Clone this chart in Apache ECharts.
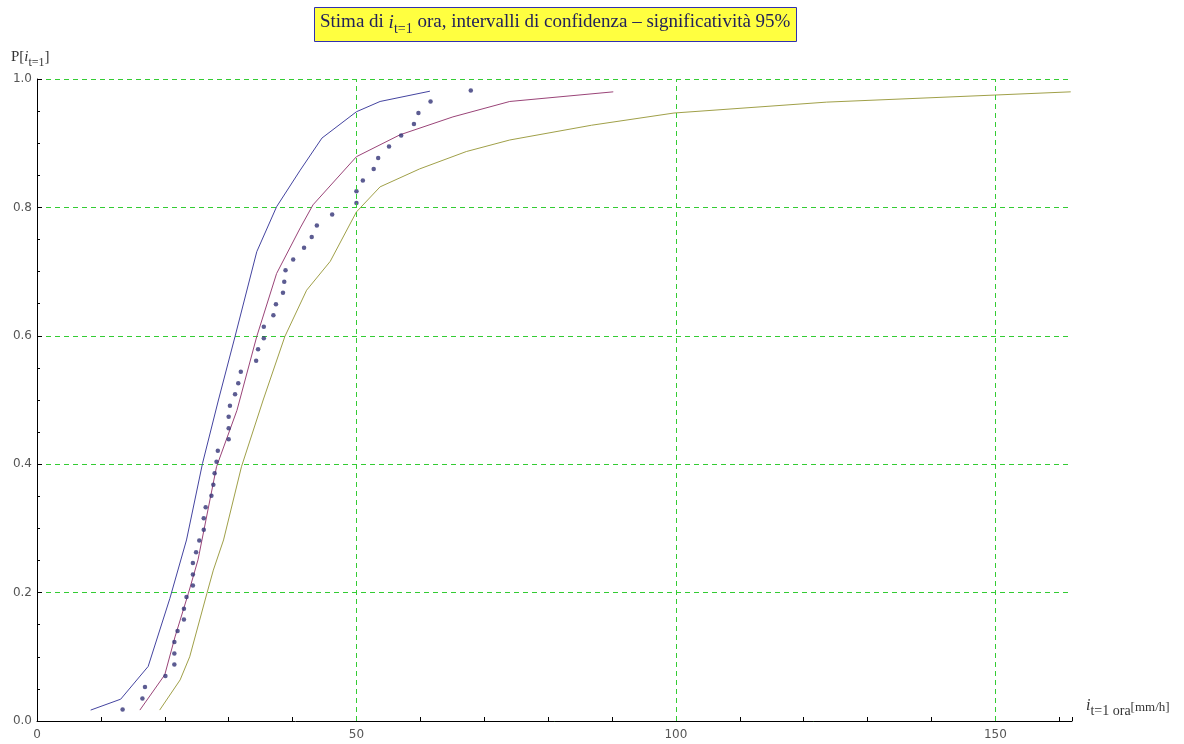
<!DOCTYPE html>
<html>
<head>
<meta charset="utf-8">
<title>Stima di i t=1 ora</title>
<script src="https://cdn.jsdelivr.net/npm/echarts@6/dist/echarts.min.js"></script>
<style>
  html, body { margin: 0; padding: 0; background: #fff; }
  #chart { width: 1184px; height: 744px; }
</style>
</head>
<body>
<div id="chart"></div>
<script>
// Observed hourly rainfall intensities (mm/h), sorted, with their plotting positions
const obsIntensity = [13.4, 16.5, 16.9, 20.1, 21.5, 21.5, 21.5, 22.0, 23.0, 23.0,
  23.4, 24.4, 24.4, 24.4, 24.9, 25.4, 26.1, 26.1, 26.4, 27.3,
  27.6, 27.8, 28.1, 28.3, 30.0, 30.0, 30.0, 30.2, 31.0, 31.5,
  31.9, 34.3, 34.6, 35.5, 35.5, 37.0, 37.4, 38.5, 38.7, 38.9,
  40.1, 41.8, 43.0, 43.8, 46.2, 50.0, 50.0, 51.0, 52.7, 53.4,
  55.1, 57.0, 59.0, 59.7, 61.6, 67.9];
const obsProb = [0.018, 0.035, 0.053, 0.070, 0.088, 0.105, 0.123, 0.140, 0.158, 0.175,
  0.193, 0.211, 0.228, 0.246, 0.263, 0.281, 0.298, 0.316, 0.333, 0.351,
  0.368, 0.386, 0.404, 0.421, 0.439, 0.456, 0.474, 0.491, 0.509, 0.526,
  0.544, 0.561, 0.579, 0.596, 0.614, 0.632, 0.649, 0.667, 0.684, 0.702,
  0.719, 0.737, 0.754, 0.772, 0.789, 0.807, 0.825, 0.842, 0.860, 0.877,
  0.895, 0.912, 0.930, 0.947, 0.965, 0.982];

// Lower confidence limit of the intensity quantile
const lowerX = [8.4, 13.1, 17.4, 20.8, 23.4, 25.9, 28.4, 31.0, 34.4, 37.5, 41.2, 44.6, 50.0, 53.7, 61.5];
const lowerP = [0.017, 0.034, 0.085, 0.191, 0.282, 0.401, 0.500, 0.599, 0.731, 0.801, 0.858, 0.908, 0.949, 0.965, 0.981];

// Fitted distribution
const fitX = [16.1, 20.0, 21.6, 23.7, 25.2, 28.1, 31.3, 34.4, 37.5, 41.2, 43.2, 50.0, 56.8, 65.1, 74.0, 90.2];
const fitP = [0.017, 0.072, 0.131, 0.199, 0.251, 0.396, 0.484, 0.599, 0.697, 0.768, 0.804, 0.879, 0.913, 0.941, 0.965, 0.980];

// Upper confidence limit of the intensity quantile
const upperX = [19.2, 22.4, 23.9, 26.6, 27.6, 29.2, 32.0, 35.4, 38.8, 42.2, 45.9, 50.0, 53.7, 59.9, 67.2, 74.0, 86.8, 99.7, 123.6, 149.9, 161.8];
const upperP = [0.017, 0.064, 0.100, 0.199, 0.235, 0.282, 0.396, 0.500, 0.599, 0.671, 0.716, 0.793, 0.832, 0.860, 0.887, 0.905, 0.928, 0.947, 0.964, 0.975, 0.980];

// Axis ticks
const xGridValues = [50, 100, 150];
const xLabelStep = 50;

const pairs = (xs, ys) => xs.map((x, i) => [x, ys[i]]);

const serif = '"Liberation Serif", "DejaVu Serif", serif';
const sans = '"DejaVu Sans", "Liberation Sans", sans-serif';
const gridGreen = '#33cc33';
const titleInk = '#22225a';

const chart = echarts.init(document.getElementById('chart'), null, { renderer: 'canvas' });

chart.setOption({
  animation: false,
  backgroundColor: '#ffffff',
  title: {
    left: 314,
    top: 7,
    padding: [6, 6, 6, 6],
    backgroundColor: '#ffff40',
    borderColor: '#3030b0',
    borderWidth: 1,
    text: '{n|Stima di }{it|i}{s|t=1}{n| ora, intervalli di confidenza \u2013 significatività 95%}',
    textStyle: {
      fontWeight: 'normal',
      rich: {
        n: { fontFamily: serif, fontSize: 19, fontWeight: 'normal', color: titleInk, padding: [0, 0, 4, 0], verticalAlign: 'bottom' },
        it: { fontFamily: serif, fontSize: 19, fontWeight: 'normal', fontStyle: 'italic', color: titleInk, padding: [0, 0, 4, 0], verticalAlign: 'bottom' },
        s: { fontFamily: serif, fontSize: 14, fontWeight: 'normal', color: titleInk, verticalAlign: 'bottom' }
      }
    }
  },
  grid: { left: 37, right: 112, top: 79, bottom: 23, containLabel: false },
  xAxis: {
    type: 'value',
    min: 0,
    max: 162,
    interval: 10,
    axisLine: { show: true, onZero: false, lineStyle: { color: '#000', width: 1 } },
    axisTick: { show: true, inside: true, length: 4, lineStyle: { color: '#000' } },
    axisLabel: {
      margin: 8,
      color: '#555',
      fontFamily: sans,
      fontSize: 12,
      formatter: v => (Math.abs(v % xLabelStep) < 1e-9 ? String(v) : '')
    },
    splitLine: { show: false }
  },
  yAxis: {
    type: 'value',
    min: 0,
    max: 1,
    interval: 0.2,
    axisLine: { show: true, onZero: false, lineStyle: { color: '#000', width: 1 } },
    axisTick: { show: true, inside: true, length: 5, lineStyle: { color: '#000' } },
    minorTick: { show: true, splitNumber: 4, length: 3, lineStyle: { color: '#000' } },
    axisLabel: {
      margin: 5,
      color: '#555',
      fontFamily: sans,
      fontSize: 12,
      formatter: v => v.toFixed(1)
    },
    splitLine: { show: true, lineStyle: { color: gridGreen, type: [5, 4], width: 1 } }
  },
  graphic: [
    {
      type: 'text',
      left: 11,
      top: 50,
      style: {
        text: '{n|P[}{it|i}{s|t=1}{n|]}',
        rich: {
          n: { fontFamily: serif, fontSize: 15, fill: '#333', padding: [0, 0, 4, 0], verticalAlign: 'bottom' },
          it: { fontFamily: serif, fontSize: 15, fontStyle: 'italic', fill: '#333', padding: [0, 0, 4, 0], verticalAlign: 'bottom' },
          s: { fontFamily: serif, fontSize: 12, fill: '#333', verticalAlign: 'bottom' }
        }
      }
    },
    {
      type: 'text',
      left: 1086,
      top: 698,
      style: {
        text: '{it|i}{s|t=1 ora}{u|[mm/h]}',
        rich: {
          it: { fontFamily: serif, fontSize: 16, fontStyle: 'italic', fill: '#333', padding: [0, 0, 4, 0], verticalAlign: 'bottom' },
          s: { fontFamily: serif, fontSize: 14, fill: '#333', verticalAlign: 'bottom' },
          u: { fontFamily: serif, fontSize: 13, fill: '#333', padding: [0, 0, 4, 0], verticalAlign: 'bottom' }
        }
      }
    }
  ],
  series: [
    {
      // vertical grid lines
      type: 'line',
      data: [],
      z: 1,
      silent: true,
      markLine: {
        silent: true,
        symbol: 'none',
        label: { show: false },
        lineStyle: { color: gridGreen, type: [5, 4], width: 1 },
        data: xGridValues.map(v => ({ xAxis: v }))
      }
    },
    {
      name: 'limite inferiore',
      type: 'line',
      data: pairs(lowerX, lowerP),
      showSymbol: false,
      z: 3,
      lineStyle: { color: '#4444a0', width: 1 }
    },
    {
      name: 'distribuzione',
      type: 'line',
      data: pairs(fitX, fitP),
      showSymbol: false,
      z: 3,
      lineStyle: { color: '#9a4478', width: 1 }
    },
    {
      name: 'limite superiore',
      type: 'line',
      data: pairs(upperX, upperP),
      showSymbol: false,
      z: 3,
      lineStyle: { color: '#a0a048', width: 1 }
    },
    {
      name: 'osservazioni',
      type: 'scatter',
      data: pairs(obsIntensity, obsProb),
      symbol: 'circle',
      symbolSize: 4.5,
      z: 4,
      itemStyle: { color: '#333377' }
    }
  ]
});
</script>
</body>
</html>
